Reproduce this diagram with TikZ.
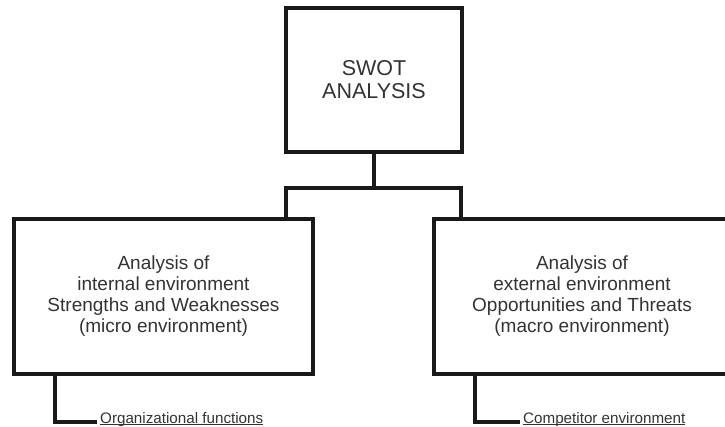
\documentclass[tikz,border=0pt]{standalone}
\usepackage{fontspec}
\setmainfont{Liberation Sans}
\newcommand\ultext[1]{\setbox0\hbox{#1}\rlap{\rule[-1.6pt]{\wd0}{0.8pt}}\box0}
\begin{document}
\begin{tikzpicture} [
                x=1pt, y=-1pt,
                box/.style = {draw=black!90, line width=4pt, text=black!80, align=center, inner sep=0pt},
                title box/.style = {box, minimum width=176pt, minimum height=144pt, font=\fontsize{21.5}{23}\selectfont},
                env box/.style = {box, minimum height=155pt, font=\fontsize{19}{21}\selectfont},
                label text/.style = {text=black!80, inner sep=0pt, font=\fontsize{15.2}{17}\selectfont},
                link/.style = {draw=black!90, line width=4pt, line join=miter},
            ]
            \useasboundingbox (0,0) rectangle (725,427);
            \node[title box] (swot) at (374,80) {SWOT\\ANALYSIS};
            \node[env box, minimum width=299pt] (internal) at (163.5,296.5)
                {Analysis of\\internal environment\\Strengths and Weaknesses\\(micro environment)};
            \node[env box, minimum width=296pt] (external) at (582,296.5)
                {Analysis of\\external environment\\Opportunities and Threats\\(macro environment)};
            \foreach \pos/\name/\txt in {
                    {(100,423)/orgfun/Organizational functions},
                    {(523,423)/compenv/Competitor environment}}
                \node[label text, anchor=base west] (\name) at \pos {\ultext{\txt}};
            \coordinate (barL) at (286,188);
            \coordinate (barR) at (461,188);
            \path[link] (swot.south) -- (swot.south |- barL);
            \path[link] (internal.north -| barL) |- (barR) -- (external.north -| barR);
            \foreach \source/\xpos/\dest in {
                    internal/55/orgfun, external/475/compenv}
                \path[link] (\source.south -| \xpos,0) |- ([xshift=-3pt,yshift=1pt]\dest.base west);
        \end{tikzpicture}
\end{document}
